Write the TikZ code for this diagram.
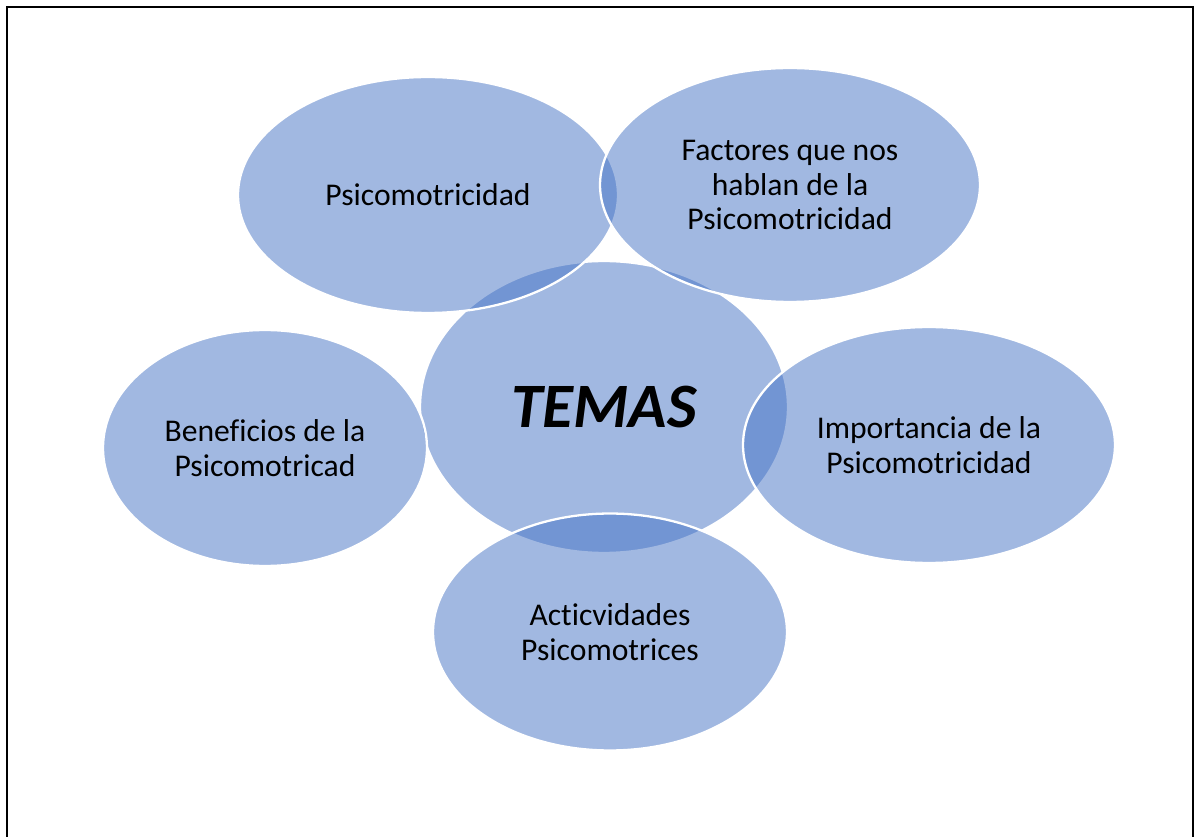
\documentclass[tikz,border=0pt]{standalone}
\usepackage{fontspec}
\setmainfont{Carlito}[Ligatures=CommonOff]
\usetikzlibrary{shapes.geometric}
\definecolor{temablue}{RGB}{68,114,196}
\tikzset{bubble/.style={ellipse,draw=white,line width=1.3pt,fill=temablue,fill opacity=0.5,text opacity=1,align=center,inner sep=0pt,font=\fontsize{18}{19.8}\selectfont},frame/.style={draw=black,line width=1.2pt}}

\begin{document}
\begin{tikzpicture}[x=0.02cm,y=-0.02cm]
\useasboundingbox (0,0) rectangle (1197,837);
\draw[frame] (7,845)--(7,7)--(1193,7)--(1193,845);
\node[bubble,minimum width=7.36cm,minimum height=5.84cm,font=\fontsize{36}{40}\selectfont\bfseries\itshape] (temas) at (604,407) {TEMAS};
\node[bubble,minimum width=7.6cm,minimum height=4.72cm] (psico) at (428,195) {Psicomotricidad};
\node[bubble,minimum width=7.6cm,minimum height=4.68cm] (factores) at (790,185) {Factores que nos\\hablan de la\\Psicomotricidad};
\node[bubble,minimum width=7.44cm,minimum height=4.72cm] (importancia) at (929,445) {Importancia de la\\Psicomotricidad};
\node[bubble,minimum width=7.08cm,minimum height=4.74cm] (actividades) at (610,632) {Acticvidades\\Psicomotrices};
\node[bubble,minimum width=6.48cm,minimum height=4.72cm] (beneficios) at (265,448) {Beneficios de la\\Psicomotricad};
\end{tikzpicture}
\end{document}
